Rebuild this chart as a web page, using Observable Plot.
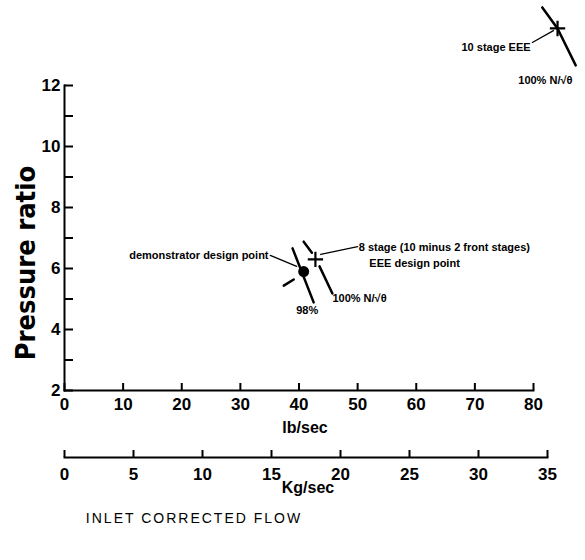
<!DOCTYPE html>
<html><head><meta charset="utf-8">
<script src="https://cdn.jsdelivr.net/npm/d3@7"></script>
<script src="https://cdn.jsdelivr.net/npm/@observablehq/plot@0.6"></script>
<style>
body{margin:0;background:#fff;}
#chart svg{display:block;}
#caption{font-family:"Liberation Sans",sans-serif;font-size:14px;letter-spacing:2px;position:absolute;left:0;top:509px;width:388px;text-align:center;line-height:18px;color:#000;}
</style></head><body><div id="chart"></div><div id="caption">INLET CORRECTED FLOW</div>
<script>
// Axis ticks
const lbTicks = [0, 10, 20, 30, 40, 50, 60, 70, 80];
const prTicks = [2, 3, 4, 5, 6, 7, 8, 9, 10, 11, 12];
const prLabels = [2, 4, 6, 8, 10, 12];
const kgTicks = [0, 5, 10, 15, 20, 25, 30, 35];

// Design points (lb/sec, pressure ratio)
const pointNames = ["demonstrator design point", "8 stage EEE design point", "10 stage EEE"];
const pointFlow = [40.8, 42.8, 84.1];
const pointRatio = [5.9, 6.3, 13.87];
const pointSymbol = ["circle", "plus", "plus"];

// Speed lines
const speed98Flow = [38.9, 42.5];
const speed98Ratio = [6.66, 4.89];
const speed100aFlow = [40.8, 42.2];
const speed100aRatio = [6.88, 6.52];
const speed100bFlow = [43.5, 45.7];
const speed100bRatio = [6.07, 5.18];
const speed10Flow = [81.5, 84.1, 87.2];
const speed10Ratio = [14.56, 13.87, 12.66];
const dashFlow = [37.4, 39.1];
const dashRatio = [5.44, 5.64];

// Leader lines
const leadDemoFlow = [35.1, 39.6];
const leadDemoRatio = [6.43, 6.07];
const lead8Flow = [43.7, 50.0];
const lead8Ratio = [6.46, 6.72];
const lead10Flow = [79.8, 83.4];
const lead10Ratio = [13.41, 13.80];

// Annotation labels
const labelText = ["demonstrator design point", "8 stage (10 minus 2 front stages)", "EEE design point", "100% N/\u221A\u03B8", "98%", "10 stage EEE", "100% N/\u221A\u03B8"];
const labelFlow = [34.8, 50.2, 52.0, 45.7, 41.4, 79.5, 77.4];
const labelRatio = [6.43, 6.69, 6.16, 5.02, 4.62, 13.25, 12.16];
const labelAnchor = ["end", "start", "start", "start", "middle", "end", "start"];

const zip = (xs, ys) => xs.map((x, i) => ({x, y: ys[i]}));
const points = pointNames.map((name, i) => ({name, x: pointFlow[i], y: pointRatio[i], symbol: pointSymbol[i]}));
const labels = labelText.map((t, i) => ({t, x: labelFlow[i], y: labelRatio[i], a: labelAnchor[i]}));

const font = '"Liberation Sans Narrow", "Liberation Sans", sans-serif';
const lineOpts = {x: "x", y: "y", stroke: "black", strokeWidth: 2.5};
const leadOpts = {x: "x", y: "y", stroke: "black", strokeWidth: 1.3};
const labelMarks = ["start", "middle", "end"].map(a =>
  Plot.text(labels.filter(d => d.a === a), {x: "x", y: "y", text: "t", textAnchor: a, fontSize: 11, fontWeight: "bold"}));

const main = Plot.plot({
  width: 585, height: 445,
  marginLeft: 64, marginRight: 52, marginTop: 85, marginBottom: 55,
  style: {fontFamily: font, fontWeight: "bold", fontSize: "16px", color: "black", background: "white", overflow: "visible"},
  x: {domain: [0, 80], axis: null},
  y: {domain: [2, 12], axis: null},
  marks: [
    Plot.frame({anchor: "left", strokeWidth: 2, stroke: "black"}),
    Plot.frame({anchor: "bottom", strokeWidth: 2, stroke: "black"}),
    Plot.tickX(lbTicks, {x: d => d, insetTop: 298, strokeWidth: 2, stroke: "black"}),
    Plot.tickY(prTicks, {y: d => d, insetRight: 460, strokeWidth: 2, stroke: "black"}),
    Plot.axisX(lbTicks, {tickSize: 0, tickPadding: 7, fontSize: 17, fontWeight: "bold", label: null}),
    Plot.axisY(prLabels, {tickSize: 0, tickPadding: 4, fontSize: 17, fontWeight: "bold", label: null}),
    Plot.text(["lb/sec"], {frameAnchor: "bottom", dx: 6, dy: 42, fontSize: 16, fontWeight: "bold", fontFamily: '"Liberation Sans", sans-serif'}),
    Plot.text(["Pressure ratio"], {frameAnchor: "left", textAnchor: "middle", dx: -38, dy: 25, rotate: -90, fontSize: 27, fontWeight: "bold", fontFamily: '"DejaVu Sans Condensed", "DejaVu Sans", sans-serif', letterSpacing: 3.5}),
    Plot.line(zip(speed98Flow, speed98Ratio), lineOpts),
    Plot.line(zip(speed100aFlow, speed100aRatio), lineOpts),
    Plot.line(zip(speed100bFlow, speed100bRatio), lineOpts),
    Plot.line(zip(speed10Flow, speed10Ratio), lineOpts),
    Plot.line(zip(dashFlow, dashRatio), lineOpts),
    Plot.line(zip(leadDemoFlow, leadDemoRatio), leadOpts),
    Plot.line(zip(lead8Flow, lead8Ratio), leadOpts),
    Plot.line(zip(lead10Flow, lead10Ratio), leadOpts),
    Plot.dot(points.filter(d => d.symbol === "circle"), {x: "x", y: "y", r: 5.5, fill: "black"}),
    Plot.dot(points.filter(d => d.symbol === "plus"), {x: "x", y: "y", symbol: "plus", r: 5, fill: "none", stroke: "black", strokeWidth: 2.2}),
    ...labelMarks
  ]
});

const kg = Plot.plot({
  width: 585, height: 60,
  marginLeft: 64, marginRight: 38, marginTop: 5, marginBottom: 48,
  style: {fontFamily: font, fontWeight: "bold", fontSize: "16px", color: "black", background: "white", overflow: "visible"},
  x: {domain: [0, 35], axis: null},
  marks: [
    Plot.frame({anchor: "bottom", strokeWidth: 2, stroke: "black"}),
    Plot.tickX(kgTicks, {x: d => d, strokeWidth: 2, stroke: "black"}),
    Plot.axisX(kgTicks, {tickSize: 0, tickPadding: 10, fontSize: 17, fontWeight: "bold", label: null}),
    Plot.text(["Kg/sec"], {frameAnchor: "bottom", dx: 2, dy: 35, fontSize: 16, fontWeight: "bold", fontFamily: '"Liberation Sans", sans-serif'})
  ]
});

document.getElementById("chart").append(main, kg);
</script></body></html>
